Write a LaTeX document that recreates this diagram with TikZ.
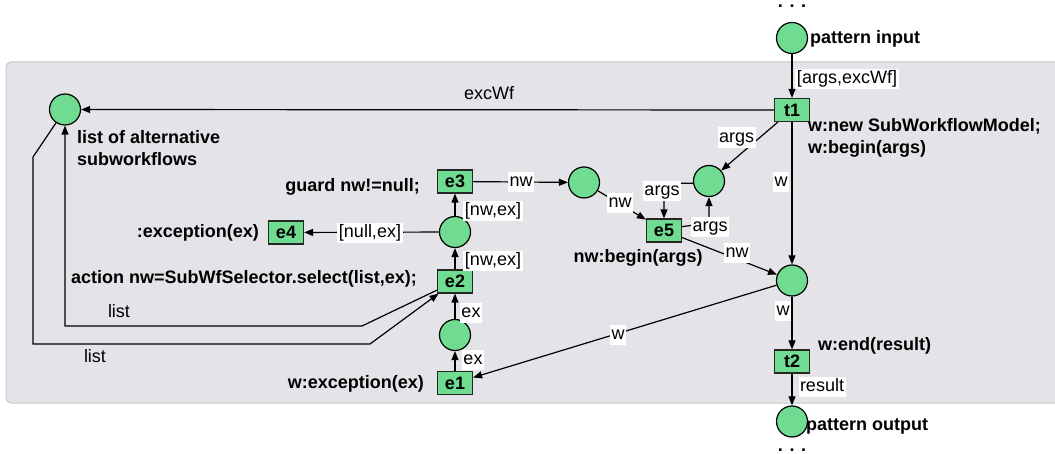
\documentclass[tikz,border=0pt]{standalone}
\usepackage{fontspec}
\setmainfont{Liberation Sans}
\usetikzlibrary{arrows.meta}
\definecolor{pgreen}{RGB}{112,220,146}
\definecolor{bggray}{RGB}{227,227,232}
\definecolor{bgborder}{RGB}{200,200,204}
\begin{document}
\begin{tikzpicture}[x=1pt,y=-1pt,
  txt/.style={font=\fontsize{18}{21.5}\selectfont, inner sep=0pt},
  btxt/.style={font=\fontsize{18}{21.5}\selectfont\bfseries, inner sep=0pt, align=left},
  lbl/.style={font=\fontsize{18}{21.5}\selectfont, fill=white, inner sep=1.5pt, text height=13.5pt, text depth=4pt},
  nlbl/.style={font=\fontsize{18}{21.5}\selectfont, inner sep=1.5pt, text height=13.5pt, text depth=4pt},
  place/.style={circle, draw=black, line width=1.2pt, fill=pgreen, minimum size=31pt, inner sep=0pt},
  trans/.style={rectangle, draw=black!85, line width=1.2pt, fill=pgreen, minimum width=35pt, minimum height=23pt, inner sep=0pt, font=\fontsize{18}{21.5}\selectfont\bfseries},
  arc/.style={draw=black, line width=1.2pt, -{Triangle[length=9pt,width=7pt]}},
]
\useasboundingbox (0,0) rectangle (1055,454);
\path[fill=bggray, draw=bgborder, line width=1pt, rounded corners=5pt] (6,62) rectangle (1080,403);

% places and transitions
\node[place] (pin) at (792,38) {};
\node[trans] (t1) at (792,110) {t1};
\node[place] (list) at (65,109.5) {};
\node[place] (args) at (709,181) {};
\node[place] (nwp) at (584,182.5) {};
\node[trans] (e3) at (455,181.5) {e3};
\node[place] (mid) at (455,232) {};
\node[trans] (e4) at (286,232.5) {e4};
\node[trans] (e2) at (455,281.5) {e2};
\node[place] (exp) at (455,335) {};
\node[trans] (e1) at (455,383) {e1};
\node[trans] (e5) at (664,230.5) {e5};
\node[place] (wp) at (792,280.5) {};
\node[trans] (t2) at (792,361.5) {t2};
\node[place] (pout) at (792,421.5) {};

% connectors
\draw[arc] (pin) -- (t1);
\draw[arc] (t1) -- (list);
\draw[arc] (t1) -- (args);
\draw[arc] (t1) -- (wp);
\draw[arc] (e3) -- (nwp);
\draw[arc] (nwp) -- (e5);
\draw[arc] (args.188) -- (664,183.5) -- (e5);
\draw[arc] (e5.12) -- (709,223) -- (args);
\draw[arc] (e5) -- (wp);
\draw[arc] (wp) -- (t2);
\draw[arc] (t2) -- (pout);
\draw[arc] (wp) -- (e1);
\draw[arc] (e1) -- (exp);
\draw[arc] (exp) -- (e2);
\draw[arc] (e2) -- (mid);
\draw[arc] (mid) -- (e3);
\draw[arc] (mid) -- (e4);
\draw[arc] (list) -- (33,157) |- (370,344) -- (e2);
\draw[arc] (e2) -- (362,326) -| (list);

% arc labels
\node[lbl] (la1) at (847,79) {[args,excWf]};
\node[nlbl] (la2) at (489,95) {excWf};
\node[lbl] (la3) at (736.5,137.5) {args};
\node[lbl] (la4) at (781,182) {w};
\node[lbl] (la5) at (662,191) {args};
\node[lbl] (la6) at (710,227) {args};
\node[lbl] (la7) at (521,182) {nw};
\node[lbl] (la8) at (620,203) {nw};
\node[lbl] (la9) at (737,253) {nw};
\node[lbl] (la10) at (493,211) {[nw,ex]};
\node[lbl] (la11) at (493,261) {[nw,ex]};
\node[lbl] (la12) at (370,233) {[null,ex]};
\node[lbl] (la13) at (471,313) {ex};
\node[lbl] (la14) at (473,360) {ex};
\node[nlbl] (la15) at (119,313) {list};
\node[nlbl] (la16) at (95,358) {list};
\node[lbl] (la17) at (783,311) {w};
\node[lbl] (la18) at (618,335) {w};
\node[lbl] (la19) at (822,387) {result};

% bold annotations
\node[btxt, anchor=base west] (tpin) at (810,44) {pattern input};
\node[btxt, anchor=base west] (tpout) at (806,430) {pattern output};
\node[btxt, anchor=base west] (tt1) at (808,153.5) {w:new SubWorkflowModel;\\w:begin(args)};
\node[btxt, anchor=base west] (tlist) at (77,165.5) {list of alternative\\subworkflows};
\node[btxt, anchor=base east] (te3) at (420,192) {guard nw!=null;};
\node[btxt, anchor=base east] (te4) at (259,238) {:exception(ex)};
\node[btxt, anchor=base east] (te2) at (417,284) {action nw=SubWfSelector.select(list,ex);};
\node[btxt, anchor=base east] (te1) at (424,388) {w:exception(ex)};
\node[btxt, anchor=base] (te5) at (638,263) {nw:begin(args)};
\node[btxt, anchor=base west] (tt2) at (818,350) {w:end(result)};
\node[btxt, anchor=base] (dtop) at (792,8) {. . .};
\node[btxt, anchor=base] (dbot) at (792,451) {. . .};
\end{tikzpicture}
\end{document}
